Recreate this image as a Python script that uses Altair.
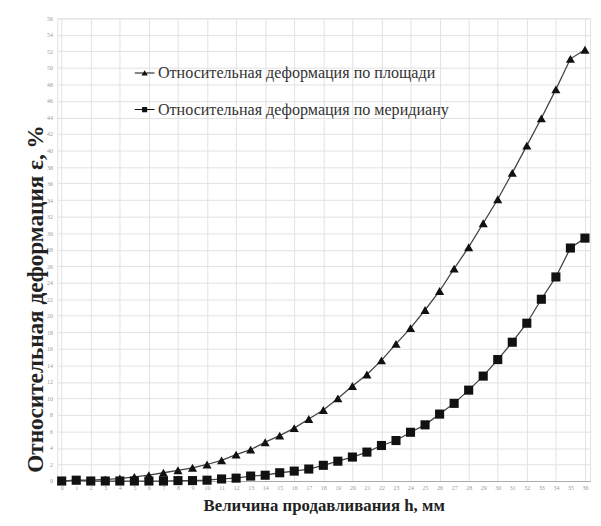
import altair as alt
import pandas as pd

h = list(range(0, 37))
area = [0.0, 0.1, 0.1, 0.2, 0.3, 0.5, 0.7, 1.0, 1.3, 1.6,
        2.0, 2.5, 3.2, 3.8, 4.7, 5.5, 6.4, 7.5, 8.6, 10.0,
        11.5, 12.9, 14.6, 16.6, 18.5, 20.7, 23.0, 25.7, 28.3, 31.2,
        34.1, 37.3, 40.6, 43.9, 47.4, 51.1, 52.2]
meridian = [0.0, 0.1, 0.0, 0.0, 0.0, 0.0, 0.0, 0.0, 0.05, 0.05,
            0.1, 0.25, 0.35, 0.6, 0.7, 1.0, 1.2, 1.45, 1.9, 2.4,
            2.9, 3.5, 4.3, 4.9, 5.9, 6.8, 8.1, 9.4, 11.0, 12.7,
            14.7, 16.8, 19.1, 22.0, 24.7, 28.2, 29.4]
names = ["Относительная деформация по площади",
         "Относительная деформация по меридиану"]
x_ticks = list(range(0, 37))
y_ticks = list(range(0, 57, 2))

rows = []
for i, x in enumerate(h):
    rows.append({"h": x, "v": area[i], "s": names[0]})
for i, x in enumerate(h):
    rows.append({"h": x, "v": meridian[i], "s": names[1]})
df = pd.DataFrame(rows)

serif = "Liberation Serif"
leg_font = "'Liberation Serif', 'Times New Roman', serif"

xenc = alt.X("h:Q",
             scale=alt.Scale(domain=[-0.3, 36.35], nice=False, zero=False),
             axis=alt.Axis(values=x_ticks, title="Величина продавливания h, мм",
                           titleFont=serif, titleFontSize=17, titleFontWeight="bold",
                           titleColor="#222", titlePadding=7,
                           labelFontSize=6, labelColor="#999", labelFont=serif,
                           ticks=False, labelPadding=4,
                           domainColor="#aaa",
                           gridColor="#e2e2e2",
                           gridOpacity={"expr": "datum.value % 2 === 0 ? 1 : 0"}))
yenc = alt.Y("v:Q",
             scale=alt.Scale(domain=[0, 56], nice=False),
             axis=alt.Axis(values=y_ticks, title="Относительная деформация ε, %",
                           titleFont=serif, titleFontSize=23.5, titleFontWeight="bold",
                           titleColor="#222", titleX=-10, titleY=284,
                           labelFontSize=6, labelColor="#999", labelFont=serif,
                           ticks=False, labelPadding=5,
                           domain=False, gridColor="#e2e2e2"))

base = alt.Chart(df)

line = base.mark_line(color="#444", strokeWidth=1.3, clip=False).encode(
    x=xenc, y=yenc, detail="s:N")

pts = base.mark_point(filled=True, color="#111", opacity=1, size=85, clip=False).encode(
    x=xenc, y=yenc,
    shape=alt.Shape("s:N", scale=alt.Scale(domain=names, range=["triangle-up", "square"]),
                    legend=None))

tri_path = "M-1,-0.05H1V0.05H-1Z M-0.32,0.25L0,-0.3L0.32,0.25Z"
sq_path = "M-1,-0.05H1V0.05H-1Z M-0.26,-0.26H0.26V0.26H-0.26Z"

leg = base.mark_point(filled=True, color="#111", opacity=0, size=1).encode(
    x=xenc, y=yenc,
    shape=alt.Shape("s:N", scale=alt.Scale(domain=names, range=[tri_path, sq_path]),
                    legend=alt.Legend(title=None, orient="none", legendX=78, legendY=45,
                                      symbolSize=400, symbolOpacity=1,
                                      symbolFillColor="#111", symbolStrokeColor="#111",
                                      symbolStrokeWidth=0.5,
                                      labelFont=leg_font, labelFontSize=16.3, labelColor="#333",
                                      labelLimit=400, rowPadding=18, labelOffset=3)))

chart = alt.layer(line, pts, leg).resolve_scale(shape="independent").properties(
    width=540, height=469,
    autosize=alt.AutoSizeParams(type="none"),
    padding={"left": 50, "top": 7, "right": 3, "bottom": 34},
).configure_view(stroke="#e2e2e2").configure_legend(
    labelFont=leg_font, symbolFillColor="#111", symbolStrokeColor="#111")

chart.save("out.html", embed_options={"renderer": "svg", "actions": False})
